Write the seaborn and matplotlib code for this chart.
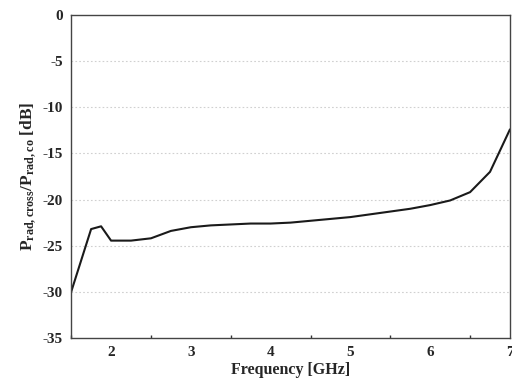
import matplotlib
matplotlib.use("Agg")
import matplotlib.pyplot as plt
import seaborn as sns
import pandas as pd
from matplotlib.ticker import MultipleLocator

freq = [1.5, 1.75, 1.875, 2.0, 2.25, 2.5, 2.75, 3.0, 3.25, 3.5, 3.75, 4.0,
        4.25, 4.5, 4.75, 5.0, 5.25, 5.5, 5.75, 6.0, 6.25, 6.5, 6.75, 7.0]
ratio_db = [-30.0, -23.2, -22.9, -24.45, -24.45, -24.2, -23.4, -23.0, -22.8, -22.7,
            -22.6, -22.6, -22.5, -22.3, -22.1, -21.9, -21.6, -21.3, -21.0, -20.6,
            -20.1, -19.2, -17.0, -12.4]
x_ticks = [2, 3, 4, 5, 6, 7]
y_ticks = [0, -5, -10, -15, -20, -25, -30, -35]

sns.set_theme(style="white")
plt.rcParams['font.family'] = ['Liberation Serif', 'DejaVu Serif']
plt.rcParams['axes.unicode_minus'] = False
plt.rcParams['mathtext.fontset'] = 'custom'
plt.rcParams['mathtext.rm'] = 'Liberation Serif:bold'
plt.rcParams['mathtext.it'] = 'Liberation Serif:bold'
plt.rcParams['mathtext.bf'] = 'Liberation Serif:bold'

df = pd.DataFrame({"freq": freq, "db": ratio_db})

fig = plt.figure(figsize=(5.12, 3.83), dpi=100)
ax = fig.add_axes([0.139, 0.1175, 0.857, 0.8435])
sns.lineplot(data=df, x="freq", y="db", ax=ax, color="#1a1a1a", linewidth=1.5)

ax.set_xlim(1.5, 7)
ax.set_ylim(-35, 0)
ax.set_xticks(x_ticks)
ax.set_yticks(y_ticks)
ax.xaxis.set_minor_locator(MultipleLocator(0.5))
ax.tick_params(axis='x', which='major', direction='in', length=4, width=1, color='#333333',
               labelsize=11, pad=6)
ax.tick_params(axis='x', which='minor', direction='in', length=2, width=1, color='#333333', bottom=True)
ax.tick_params(axis='y', length=0, labelsize=11, pad=6)
for lab in ax.get_xticklabels() + ax.get_yticklabels():
    lab.set_fontweight('bold')

for y in y_ticks[1:-1]:
    ax.axhline(y, color='#d0d0d0', linestyle=(0, (1.5, 2)), linewidth=0.8, zorder=0)

for s in ax.spines.values():
    s.set_color('#444444')
    s.set_linewidth(1.0)

ax.set_xlabel("Frequency [GHz]", fontsize=11.5, fontweight='bold', labelpad=2)
ax.set_ylabel(r"$\mathregular{P_{rad,cross}/P_{rad,co}}$ [dB]", fontsize=12.5,
              fontweight='bold', labelpad=3)

fig.savefig("out.png", dpi=100)
